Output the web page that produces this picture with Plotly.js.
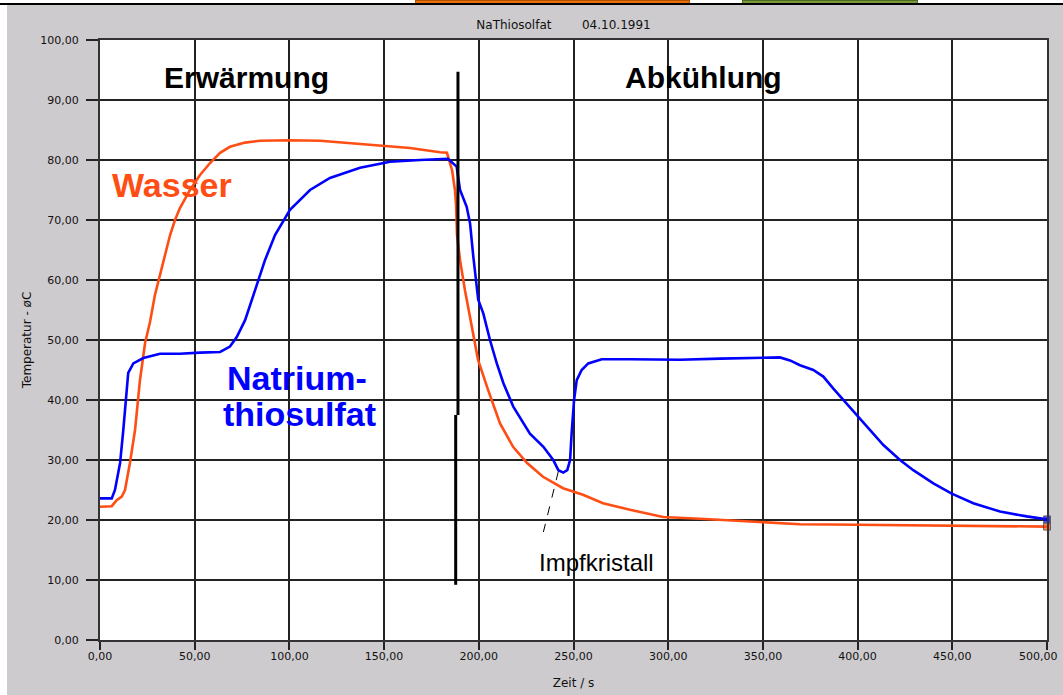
<!DOCTYPE html>
<html>
<head>
<meta charset="utf-8">
<script src="https://cdn.plot.ly/plotly-3.0.1.min.js"></script>
<style>
html,body{margin:0;padding:0;background:#ffffff;width:1063px;height:695px;overflow:hidden;}
#plot{position:absolute;left:7px;top:5px;width:1056px;height:690px;}
.bar{position:absolute;top:0;height:3px;}
#topline{position:absolute;left:0;top:3px;width:1063px;height:2px;background:#000;}
</style>
</head>
<body>
<div class="bar" style="left:415px;width:273px;background:#e8700a;border:1px solid #b05000;height:2px;"></div>
<div class="bar" style="left:742px;width:174px;background:#7a9a3a;border:1px solid #4a6a20;height:2px;"></div>
<div id="topline"></div>
<div id="plot"></div>
<script>
// Wasser (water) temperature
const wasserTime = [0, 6.2, 8.8, 11.5, 13.2, 15.8, 18.5, 21.1, 23.8, 26.4, 29.0, 31.7, 34.3, 37.0, 39.6, 42.2, 47.5, 52.8, 58.1, 63.4, 68.6, 76.6, 84.5, 100.3, 116.2, 132.0, 147.8, 163.7, 179.5, 183.2, 184.3, 185.9, 187.4, 188.0, 188.5, 190.1, 192.7, 196.3, 199.6, 204.9, 211.2, 218.1, 225.5, 233.9, 244.5, 255.0, 265.6, 279.8, 297.3, 316.8, 343.2, 369.6, 399.7, 448.8, 500];
const wasserTemp = [22.2, 22.3, 23.3, 23.9, 25.0, 29.5, 35.0, 43.3, 49.5, 53.0, 57.5, 61.0, 64.5, 67.5, 70.0, 72.0, 75.0, 77.5, 79.5, 81.2, 82.2, 82.9, 83.2, 83.3, 83.2, 82.8, 82.3, 82.0, 81.3, 81.2, 80.0, 78.3, 75.0, 72.5, 67.5, 63.3, 58.3, 52.2, 46.7, 41.7, 36.1, 32.2, 29.5, 27.2, 25.3, 24.2, 22.8, 21.7, 20.5, 20.2, 19.7, 19.3, 19.2, 19.1, 18.9];

// Natriumthiosulfat temperature
const natTime = [0, 6.2, 7.9, 10.6, 12.3, 13.6, 14.9, 17.6, 22.9, 31.7, 42.2, 52.8, 63.4, 68.6, 72.2, 76.6, 81.8, 87.1, 92.4, 100.3, 110.9, 121.4, 137.3, 153.1, 169.0, 183.7, 188.3, 190.1, 193.6, 195.4, 197.1, 199.7, 202.4, 205.9, 209.5, 213.0, 218.2, 227.0, 234.1, 239.3, 242.0, 244.6, 246.7, 248.2, 249.0, 250.3, 251.7, 254.3, 257.8, 264.9, 279.8, 306.2, 327.4, 348.5, 359.0, 364.3, 369.6, 376.6, 381.9, 387.2, 392.5, 399.5, 406.6, 413.6, 422.4, 429.4, 440.0, 449.7, 461.1, 475.2, 489.3, 500];
const natTemp = [23.6, 23.6, 25.0, 29.5, 35.0, 40.5, 44.5, 46.1, 47.0, 47.7, 47.7, 47.9, 48.0, 48.9, 50.5, 53.3, 58.3, 63.3, 67.5, 71.7, 75.0, 77.0, 78.7, 79.7, 80.0, 80.2, 78.9, 75.0, 72.2, 69.4, 63.9, 56.7, 54.4, 50.0, 46.1, 42.8, 38.9, 34.4, 32.2, 30.0, 28.3, 27.9, 28.3, 30.0, 34.4, 40.0, 43.3, 45.0, 46.1, 46.8, 46.8, 46.7, 46.9, 47.0, 47.1, 46.6, 45.8, 45.0, 43.9, 41.9, 40.0, 37.5, 35.0, 32.5, 30.0, 28.3, 26.1, 24.4, 22.8, 21.4, 20.6, 20.1];

const xTicks = [0, 50, 100, 150, 200, 250, 300, 350, 400, 450, 500];
const yTicks = [0, 10, 20, 30, 40, 50, 60, 70, 80, 90, 100];
const fmt = v => v.toFixed(2).replace('.', ',');
const lastX = xTicks[xTicks.length - 1];
// last x label is drawn as an annotation so that it can be nudged inside the page edge
const xTickText = xTicks.map(v => v === lastX ? '' : fmt(v));

const wasserColor = '#ff4e14';
const natColor = '#0000ff';

function lastMarkerSizes(n){ const a = new Array(n).fill(0); a[n-1] = 7; return a; }

const traces = [
  {x: wasserTime, y: wasserTemp, type: 'scatter', mode: 'lines+markers',
   line: {color: wasserColor, width: 2.6},
   marker: {symbol: 'square', size: lastMarkerSizes(wasserTime.length), color: wasserColor, line: {color: '#333', width: 1}},
   hoverinfo: 'skip', cliponaxis: false},
  {x: natTime, y: natTemp, type: 'scatter', mode: 'lines+markers',
   line: {color: natColor, width: 2.6},
   marker: {symbol: 'square', size: lastMarkerSizes(natTime.length), color: natColor, line: {color: '#333', width: 1}},
   hoverinfo: 'skip', cliponaxis: false}
];

const bigFont = {family: 'Liberation Sans, Arial, sans-serif', size: 30, color: '#000'};
const smallFont = {family: 'DejaVu Sans, sans-serif', size: 11, color: '#111'};

const layout = {
  width: 1056, height: 690,
  margin: {l: 93, r: 16, t: 35, b: 55, pad: 0},
  paper_bgcolor: '#cdcbce',
  plot_bgcolor: '#ffffff',
  showlegend: false,
  font: smallFont,
  title: {text: 'NaThiosolfat\u00a0\u00a0\u00a0\u00a0\u00a0\u00a0\u00a0\u00a004.10.1991',
          x: 0.527, xanchor: 'center', y: 0.972, yanchor: 'middle',
          font: {family: 'DejaVu Sans, sans-serif', size: 12, color: '#111'}},
  xaxis: {range: [0, 500], tickvals: xTicks, ticktext: xTickText,
          showgrid: true, gridcolor: '#222', gridwidth: 2,
          showline: true, linecolor: '#333', linewidth: 2, mirror: true,
          ticks: 'outside', ticklen: 8, tickwidth: 2, tickcolor: '#222',
          ticklabelstandoff: -3,
          zeroline: false, fixedrange: true,
          tickfont: smallFont,
          title: {text: 'Zeit / s', standoff: 16, font: {family: 'DejaVu Sans, sans-serif', size: 12, color: '#111'}}},
  yaxis: {range: [0, 100], tickvals: yTicks, ticktext: yTicks.map(fmt),
          showgrid: true, gridcolor: '#222', gridwidth: 2,
          showline: true, linecolor: '#333', linewidth: 2, mirror: true,
          ticks: 'outside', ticklen: 12, tickwidth: 2, tickcolor: '#222',
          ticklabelstandoff: 5,
          zeroline: false, fixedrange: true,
          tickfont: smallFont,
          title: {text: 'Temperatur - øC', standoff: 6, font: {family: 'DejaVu Sans, sans-serif', size: 12, color: '#111'}}},
  shapes: [
    {type: 'line', xref: 'x', yref: 'y', x0: 189.0, x1: 189.0, y0: 94.7, y1: 37.5, line: {color: '#000', width: 3}},
    {type: 'line', xref: 'x', yref: 'y', x0: 187.8, x1: 187.8, y0: 37.5, y1: 9.2, line: {color: '#000', width: 3}},
    {type: 'line', xref: 'x', yref: 'y', x0: 242.0, x1: 234.1, y0: 28.1, y1: 18.0, line: {color: '#000', width: 1, dash: 'dash'}}
  ],
  annotations: [
    {x: lastX, y: 0, xref: 'x', yref: 'paper', text: fmt(lastX), showarrow: false,
     xanchor: 'right', yanchor: 'top', xshift: 13, yshift: -8, font: smallFont},
    {x: 77.6, y: 93.7, xref: 'x', yref: 'y', text: '<b>Erwärmung</b>', showarrow: false, font: bigFont},
    {x: 318.4, y: 93.7, xref: 'x', yref: 'y', text: '<b>Abkühlung</b>', showarrow: false, font: bigFont},
    {x: 38.0, y: 75.8, xref: 'x', yref: 'y', text: '<b>Wasser</b>', showarrow: false,
     font: {family: 'Liberation Sans, Arial, sans-serif', size: 34, color: wasserColor}},
    {x: 66.0, y: 43.7, xref: 'x', yref: 'y', text: '<b>Natrium-</b>', showarrow: false, xanchor: 'left',
     font: {family: 'Liberation Sans, Arial, sans-serif', size: 34, color: natColor}},
    {x: 64.0, y: 37.7, xref: 'x', yref: 'y', text: '<b>thiosulfat</b>', showarrow: false, xanchor: 'left',
     font: {family: 'Liberation Sans, Arial, sans-serif', size: 34, color: natColor}},
    {x: 262.4, y: 13.0, xref: 'x', yref: 'y', text: 'Impfkristall', showarrow: false,
     font: {family: 'Liberation Sans, Arial, sans-serif', size: 24, color: '#000'}}
  ]
};

Plotly.newPlot('plot', traces, layout, {staticPlot: true, displayModeBar: false});
</script>
</body>
</html>
